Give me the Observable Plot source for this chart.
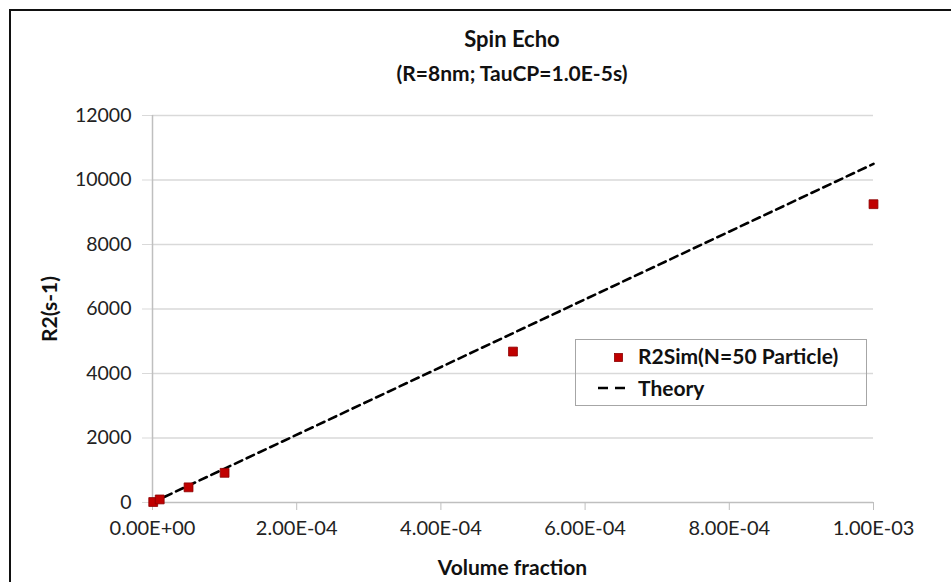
<!DOCTYPE html>
<html>
<head>
<meta charset="utf-8">
<script src="https://cdn.jsdelivr.net/npm/d3@7"></script>
<script src="https://cdn.jsdelivr.net/npm/@observablehq/plot@0.6"></script>
<style>
  html, body { margin: 0; padding: 0; background: #fff; }
  #wrap { position: relative; width: 951px; height: 582px; overflow: hidden; font-family: Lato, "Open Sans", sans-serif; }
  #frame { position: absolute; left: 9px; top: 9px; width: 1000px; height: 1000px; border-left: 2px solid #111; border-top: 2px solid #111; }
  .t { position: absolute; font-weight: bold; color: #111; white-space: nowrap; }
  #legend { position: absolute; left: 575px; top: 339px; width: 292px; height: 67px; border: 1px solid #a6a6a6; box-sizing: border-box; }
  .row { position: absolute; left: 0; font-weight: bold; font-size: 21px; color: #111; white-space: nowrap; }
  svg.sw { position: absolute; }
</style>
</head>
<body>
<div id="wrap">
  <div id="chart"></div>
  <div id="frame"></div>
  <div class="t" id="title" style="left:0;width:1024px;text-align:center;top:25px;font-size:22px;">Spin Echo</div>
  <div class="t" id="subtitle" style="left:0;width:1024px;text-align:center;top:60px;font-size:21px;">(R=8nm; TauCP=1.0E-5s)</div>
  <div class="t" id="xlabel" style="left:0;width:1025px;text-align:center;top:554px;font-size:21px;">Volume fraction</div>
  <div class="t" id="ylabel" style="left:48px;top:309px;font-size:21px;transform:translate(-50%,-50%) rotate(-90deg);">R2(s-1)</div>
  <div id="legend"></div>
</div>
<script>
// ---- data ----
const volumeFraction = [1e-6, 1e-5, 5e-5, 1e-4, 5e-4, 1e-3];
const r2Sim = [15, 95, 470, 920, 4680, 9250];
const theoryX = [0, 1e-5, 5e-5, 1e-4, 5e-4, 1e-3];
const theoryY = [0, 105, 525, 1050, 5250, 10500];
const xTicks = [0, 2e-4, 4e-4, 6e-4, 8e-4, 1e-3];
const xTickLabels = ["0.00E+00", "2.00E-04", "4.00E-04", "6.00E-04", "8.00E-04", "1.00E-03"];
const yTicks = [0, 2000, 4000, 6000, 8000, 10000, 12000];
const yTickLabels = ["0", "2000", "4000", "6000", "8000", "10000", "12000"];
const seriesNames = ["R2Sim(N=50 Particle)", "Theory"];

const simData = volumeFraction.map((x, i) => ({x, y: r2Sim[i]}));
const theoryData = theoryX.map((x, i) => ({x, y: theoryY[i]}));
const xLab = new Map(xTicks.map((t, i) => [t, xTickLabels[i]]));
const yLab = new Map(yTicks.map((t, i) => [t, yTickLabels[i]]));

const red = "#c00000";

const chart = Plot.plot({
  width: 951,
  height: 582,
  marginLeft: 152,
  marginRight: 78,
  marginTop: 115,
  marginBottom: 80,
  style: {fontFamily: "Lato, 'Open Sans', sans-serif", fontSize: "19px", background: "transparent", color: "#222"},
  x: {domain: [0, 0.001]},
  y: {domain: [0, 12000]},
  marks: [
    Plot.gridY(yTicks.filter(d => d > 0), {stroke: "#d9d9d9", strokeOpacity: 1, strokeWidth: 1.3}),
    Plot.axisY(yTicks, {tickSize: 10, tickPadding: 11, stroke: "#d9d9d9", fill: "#222", fontSize: 19.5, tickFormat: d => yLab.get(d), label: null}),
    Plot.axisX(xTicks, {tickSize: 8, tickPadding: 10, stroke: "#bfbfbf", fill: "#222", fontSize: 20, tickFormat: d => xLab.get(d), label: null}),
    Plot.ruleY([0], {stroke: "#bfbfbf", strokeWidth: 1.5}),
    Plot.ruleX([0], {stroke: "#bfbfbf", strokeWidth: 1.5}),
    Plot.line(theoryData, {x: "x", y: "y", stroke: "#000", strokeWidth: 2.6, strokeDasharray: "8,5"}),
    Plot.dot(simData, {x: "x", y: "y", symbol: "square", r: 5, fill: red, stroke: "#8a0000", strokeWidth: 0.8})
  ]
});
document.getElementById("chart").appendChild(chart);

// ---- legend ----
const legend = document.getElementById("legend");
legend.innerHTML = `
  <svg class="sw" style="left:37px;top:12px" width="12" height="12"><rect x="1.5" y="1.5" width="8" height="8" fill="${red}" stroke="#8a0000" stroke-width="0.8"/></svg>
  <div class="row" style="left:62px;top:3px">${seriesNames[0]}</div>
  <svg class="sw" style="left:20px;top:44px" width="34" height="8"><line x1="2" y1="4" x2="29" y2="4" stroke="#000" stroke-width="2.6" stroke-dasharray="10,7"/></svg>
  <div class="row" style="left:62px;top:35px">${seriesNames[1]}</div>`;
</script>
</body>
</html>
